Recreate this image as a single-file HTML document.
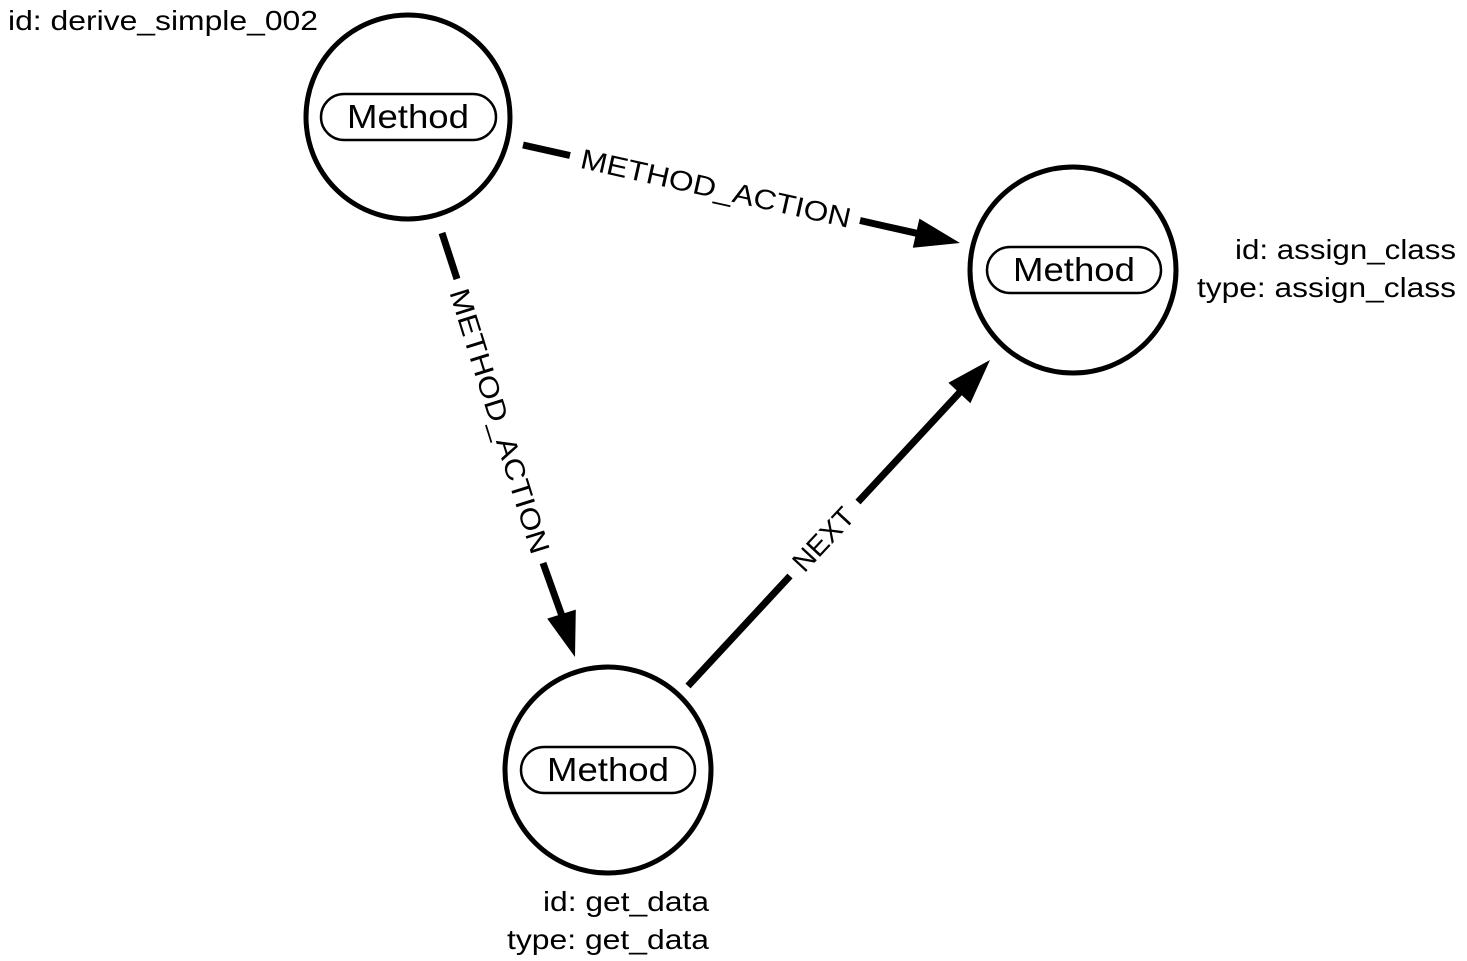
<!DOCTYPE html>
<html><head><meta charset="utf-8"><style>
html,body{margin:0;padding:0;background:#fff;}
svg{display:block;}
text{font-family:"Liberation Sans",Arial,sans-serif;fill:#000;}
</style></head><body>
<svg width="1467" height="961" viewBox="0 0 1467 961" xmlns="http://www.w3.org/2000/svg">
<!-- edge 1 -->
<line x1="523" y1="145" x2="570" y2="155.5" stroke="#000" stroke-width="7"/>
<line x1="860" y1="220.5" x2="918" y2="233.6" stroke="#000" stroke-width="7"/>
<polygon points="960,243 912.8,247.8 919.4,218.6" fill="#000"/>
<!-- edge 2 -->
<line x1="442" y1="233" x2="457" y2="279" stroke="#000" stroke-width="7"/>
<line x1="543" y1="563" x2="562" y2="616" stroke="#000" stroke-width="7"/>
<polygon points="575,657 547.2,618.6 575.8,609.6" fill="#000"/>
<!-- edge 3 -->
<line x1="688" y1="686" x2="790" y2="576" stroke="#000" stroke-width="7"/>
<line x1="858" y1="502" x2="961" y2="391" stroke="#000" stroke-width="7"/>
<polygon points="990,360 970.4,403.2 948.4,382.8" fill="#000"/>
<!-- edge labels -->
<g transform="translate(716,188) rotate(12.6)">
<text x="0" y="10" font-size="28" text-anchor="middle" textLength="276" lengthAdjust="spacingAndGlyphs">METHOD_ACTION</text>
</g>
<g transform="translate(500,421) rotate(72.6)">
<text x="0" y="10" font-size="28" text-anchor="middle" textLength="276" lengthAdjust="spacingAndGlyphs">METHOD_ACTION</text>
</g>
<g transform="translate(823,539) rotate(-47)">
<text x="0" y="10" font-size="28" text-anchor="middle" textLength="76" lengthAdjust="spacingAndGlyphs">NEXT</text>
</g>
<!-- nodes -->
<circle cx="408" cy="117" r="102" fill="#fff" stroke="#000" stroke-width="5"/>
<rect x="321" y="94" width="175" height="46" rx="23" fill="#fff" stroke="#000" stroke-width="2.5"/>
<text x="408" y="128" font-size="33" text-anchor="middle" textLength="122" lengthAdjust="spacingAndGlyphs">Method</text>

<circle cx="1073" cy="270" r="103" fill="#fff" stroke="#000" stroke-width="5"/>
<rect x="987" y="247" width="174" height="46" rx="23" fill="#fff" stroke="#000" stroke-width="2.5"/>
<text x="1074" y="281" font-size="33" text-anchor="middle" textLength="122" lengthAdjust="spacingAndGlyphs">Method</text>

<circle cx="608" cy="770" r="103" fill="#fff" stroke="#000" stroke-width="5"/>
<rect x="521" y="747" width="174" height="46" rx="23" fill="#fff" stroke="#000" stroke-width="2.5"/>
<text x="608" y="781" font-size="33" text-anchor="middle" textLength="122" lengthAdjust="spacingAndGlyphs">Method</text>
<!-- node captions -->
<text x="8" y="30" font-size="28" textLength="310" lengthAdjust="spacingAndGlyphs">id: derive_simple_002</text>
<text x="1235" y="259" font-size="28" textLength="221" lengthAdjust="spacingAndGlyphs">id: assign_class</text>
<text x="1197" y="297" font-size="28" textLength="259" lengthAdjust="spacingAndGlyphs">type: assign_class</text>
<text x="543" y="911" font-size="28" textLength="166" lengthAdjust="spacingAndGlyphs">id: get_data</text>
<text x="507" y="949" font-size="28" textLength="202" lengthAdjust="spacingAndGlyphs">type: get_data</text>
</svg>
</body></html>
